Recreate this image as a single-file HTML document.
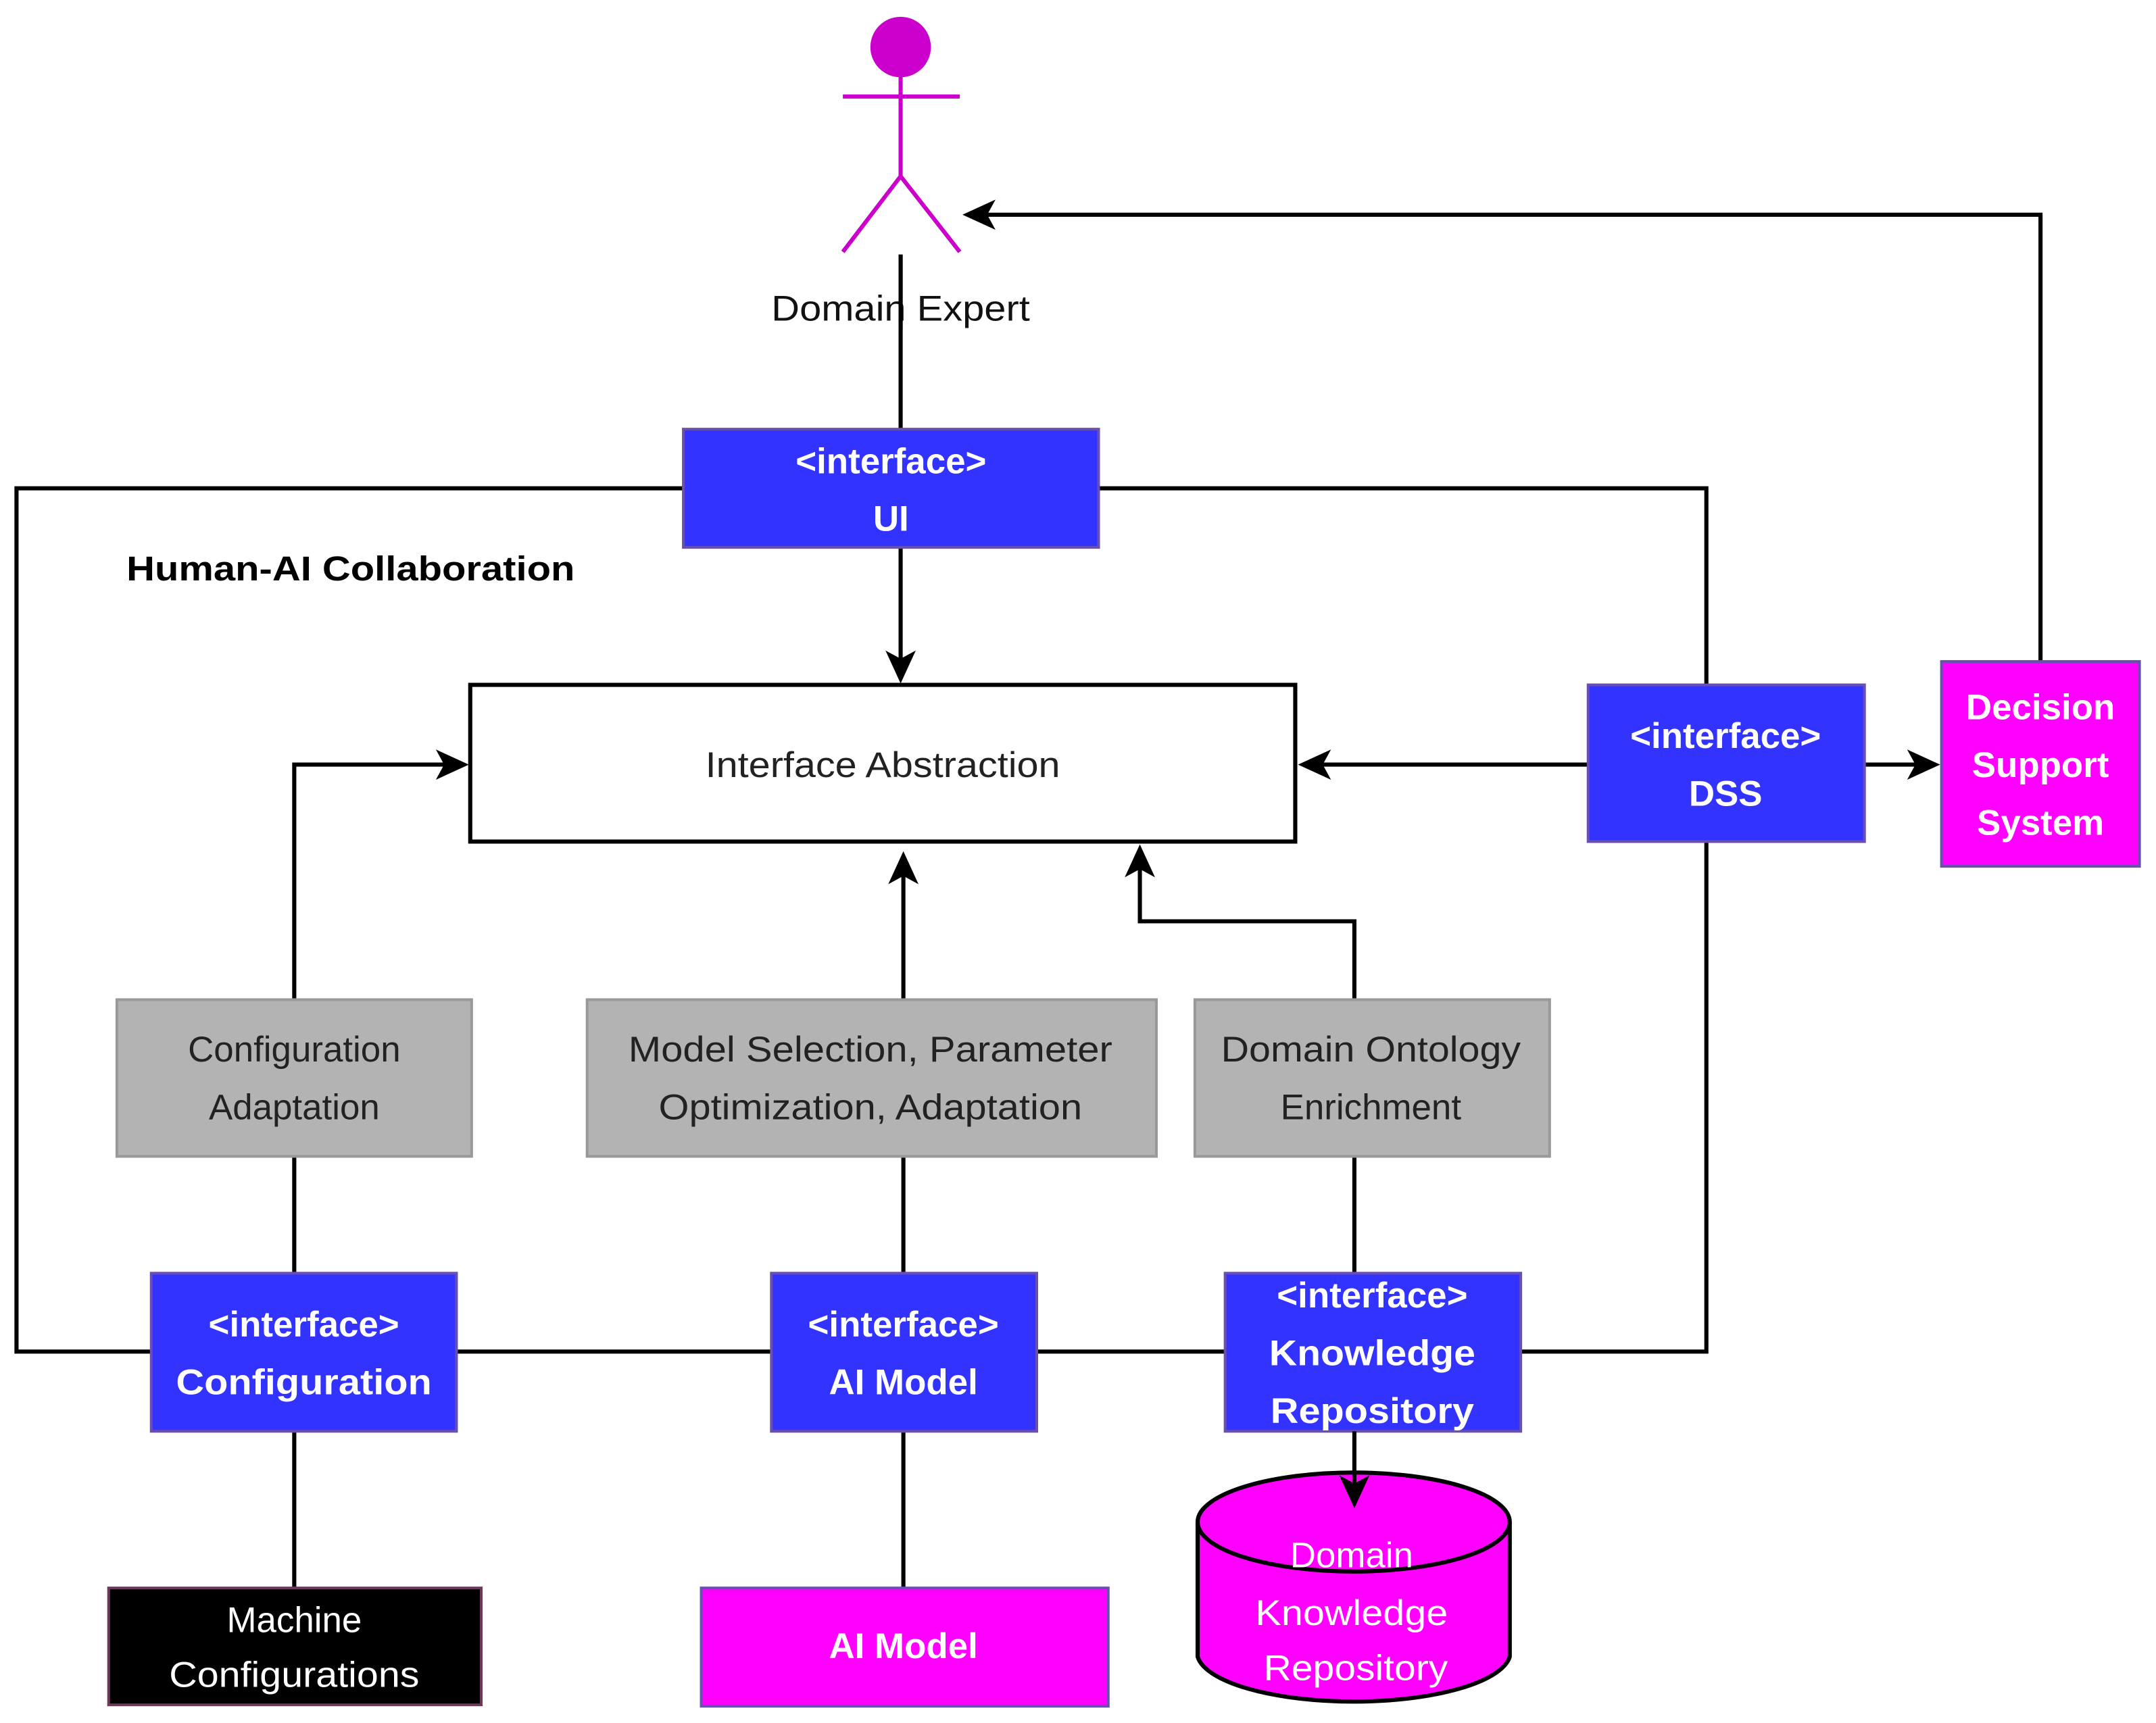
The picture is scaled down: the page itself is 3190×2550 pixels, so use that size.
<!DOCTYPE html>
<html><head><meta charset="utf-8"><style>html,body{margin:0;padding:0;background:#fff}svg{display:block}</style></head>
<body>
<svg width="3190" height="2550" viewBox="0 0 1568 1253" xmlns="http://www.w3.org/2000/svg" font-family="Liberation Sans, sans-serif">
<rect width="1568" height="1253" fill="#fff"/>
<!-- actor -->
<g stroke="#CC00CC" stroke-width="3" fill="none">
<line x1="655" y1="55" x2="655" y2="128"/>
<line x1="613" y1="70" x2="698" y2="70"/>
<line x1="655" y1="128" x2="613" y2="183"/>
<line x1="655" y1="128" x2="698" y2="183"/>
</g>
<circle cx="655" cy="34" r="22" fill="#CC00CC"/>
<g stroke="#000" stroke-width="3" fill="none">
<line x1="655" y1="185" x2="655" y2="312"/>
<polyline points="497,355 12,355 12,983 110,983"/>
<polyline points="799,355 1241,355 1241,498"/>
<polyline points="1241,613 1241,983 1106,983"/>
<line x1="332" y1="983" x2="561" y2="983"/>
<line x1="754" y1="983" x2="891" y2="983"/>
<line x1="655" y1="398" x2="655" y2="480"/>
<line x1="1155" y1="556" x2="960" y2="556"/>
<line x1="1356" y1="556" x2="1395" y2="556"/>
<polyline points="1484,481 1484,156 716,156"/>
<polyline points="214,727 214,556 325,556"/>
<line x1="657" y1="727" x2="657" y2="635"/>
<polyline points="985,727 985,670 829,670 829,630"/>
<line x1="214" y1="841" x2="214" y2="926"/>
<line x1="214" y1="1041" x2="214" y2="1155"/>
<line x1="657" y1="841" x2="657" y2="926"/>
<line x1="657" y1="1041" x2="657" y2="1155"/>
<line x1="985" y1="841" x2="985" y2="926"/>
</g>
<g fill="#000">
<path d="M655,497 L644,473 L655,479 L666,473 Z"/>
<path d="M944,556 L968,545 L962,556 L968,567 Z"/>
<path d="M1411,556 L1387,545 L1393,556 L1387,567 Z"/>
<path d="M700,156 L724,145 L718,156 L724,167 Z"/>
<path d="M341,556 L317,545 L323,556 L317,567 Z"/>
<path d="M657,619 L646,643 L657,637 L668,643 Z"/>
<path d="M829,614 L818,638 L829,632 L840,638 Z"/>
</g>
<text x="655" y="233" font-size="26" text-anchor="middle" fill="#111" textLength="188" lengthAdjust="spacingAndGlyphs">Domain Expert</text>
<line x1="655" y1="185" x2="655" y2="240" stroke="#000" stroke-width="3"/>
<!-- boxes -->
<g stroke="#6a4fb0" stroke-width="2">
<rect x="497" y="312" width="302" height="86" fill="#3333FF"/>
<rect x="1155" y="498" width="201" height="114" fill="#3333FF"/>
<rect x="110" y="926" width="222" height="115" fill="#3333FF"/>
<rect x="561" y="926" width="193" height="115" fill="#3333FF"/>
<rect x="891" y="926" width="215" height="115" fill="#3333FF"/>
<rect x="1412" y="481" width="144" height="149" fill="#FF00FF"/>
<rect x="510" y="1155" width="296" height="86" fill="#FF00FF"/>
</g>
<rect x="342" y="498" width="600" height="114" fill="#fff" stroke="#000" stroke-width="3"/>
<g fill="#B3B3B3" stroke="#999" stroke-width="2">
<rect x="85" y="727" width="258" height="114"/>
<rect x="427" y="727" width="414" height="114"/>
<rect x="869" y="727" width="258" height="114"/>
</g>
<rect x="79" y="1155" width="271" height="85" fill="#000" stroke="#6b3a5a" stroke-width="2"/>
<!-- cylinder -->
<path d="M871,1107 L871,1205 A114,36 0 0 0 1098,1205 L1098,1107" fill="#FF00FF" stroke="#000" stroke-width="3"/>
<ellipse cx="984.5" cy="1107" rx="113.5" ry="36" fill="#FF00FF" stroke="#000" stroke-width="3"/>
<line x1="985" y1="1041" x2="985" y2="1080" stroke="#000" stroke-width="3"/>
<path d="M985,1097 L974,1073 L985,1079 L996,1073 Z" fill="#000"/>
<!-- text -->
<g font-size="26" font-weight="bold" fill="#fff" text-anchor="middle">
<text x="648" y="344">&lt;interface&gt;</text><text x="648" y="386">UI</text>
<text x="1255" y="544">&lt;interface&gt;</text><text x="1255" y="586">DSS</text>
<text x="1484" y="523">Decision</text><text x="1484" y="565">Support</text><text x="1484" y="607">System</text>
<text x="221" y="972">&lt;interface&gt;</text><text x="221" y="1014" textLength="186" lengthAdjust="spacingAndGlyphs">Configuration</text>
<text x="657" y="972">&lt;interface&gt;</text><text x="657" y="1014">AI Model</text>
<text x="998" y="951">&lt;interface&gt;</text><text x="998" y="993" textLength="150" lengthAdjust="spacingAndGlyphs">Knowledge</text><text x="998" y="1035" textLength="148" lengthAdjust="spacingAndGlyphs">Repository</text>
<text x="657" y="1206">AI Model</text>
</g>
<text x="92" y="422" font-size="25" font-weight="bold" fill="#000" textLength="326" lengthAdjust="spacingAndGlyphs">Human-AI Collaboration</text>
<g font-size="26" fill="#222" text-anchor="middle">
<text x="642" y="565" textLength="258" lengthAdjust="spacingAndGlyphs">Interface Abstraction</text>
<text x="214" y="772">Configuration</text><text x="214" y="814">Adaptation</text>
<text x="633" y="772" textLength="352" lengthAdjust="spacingAndGlyphs">Model Selection, Parameter</text><text x="633" y="814" textLength="308" lengthAdjust="spacingAndGlyphs">Optimization, Adaptation</text>
<text x="997" y="772" textLength="218" lengthAdjust="spacingAndGlyphs">Domain Ontology</text><text x="997" y="814">Enrichment</text>
</g>
<g font-size="26" fill="#fff" text-anchor="middle">
<text x="214" y="1187">Machine</text><text x="214" y="1227" textLength="182" lengthAdjust="spacingAndGlyphs">Configurations</text>
<text x="983" y="1140">Domain</text><text x="983" y="1182" textLength="140" lengthAdjust="spacingAndGlyphs">Knowledge</text><text x="986" y="1222" textLength="134" lengthAdjust="spacingAndGlyphs">Repository</text>
</g>
</svg>
</body></html>
